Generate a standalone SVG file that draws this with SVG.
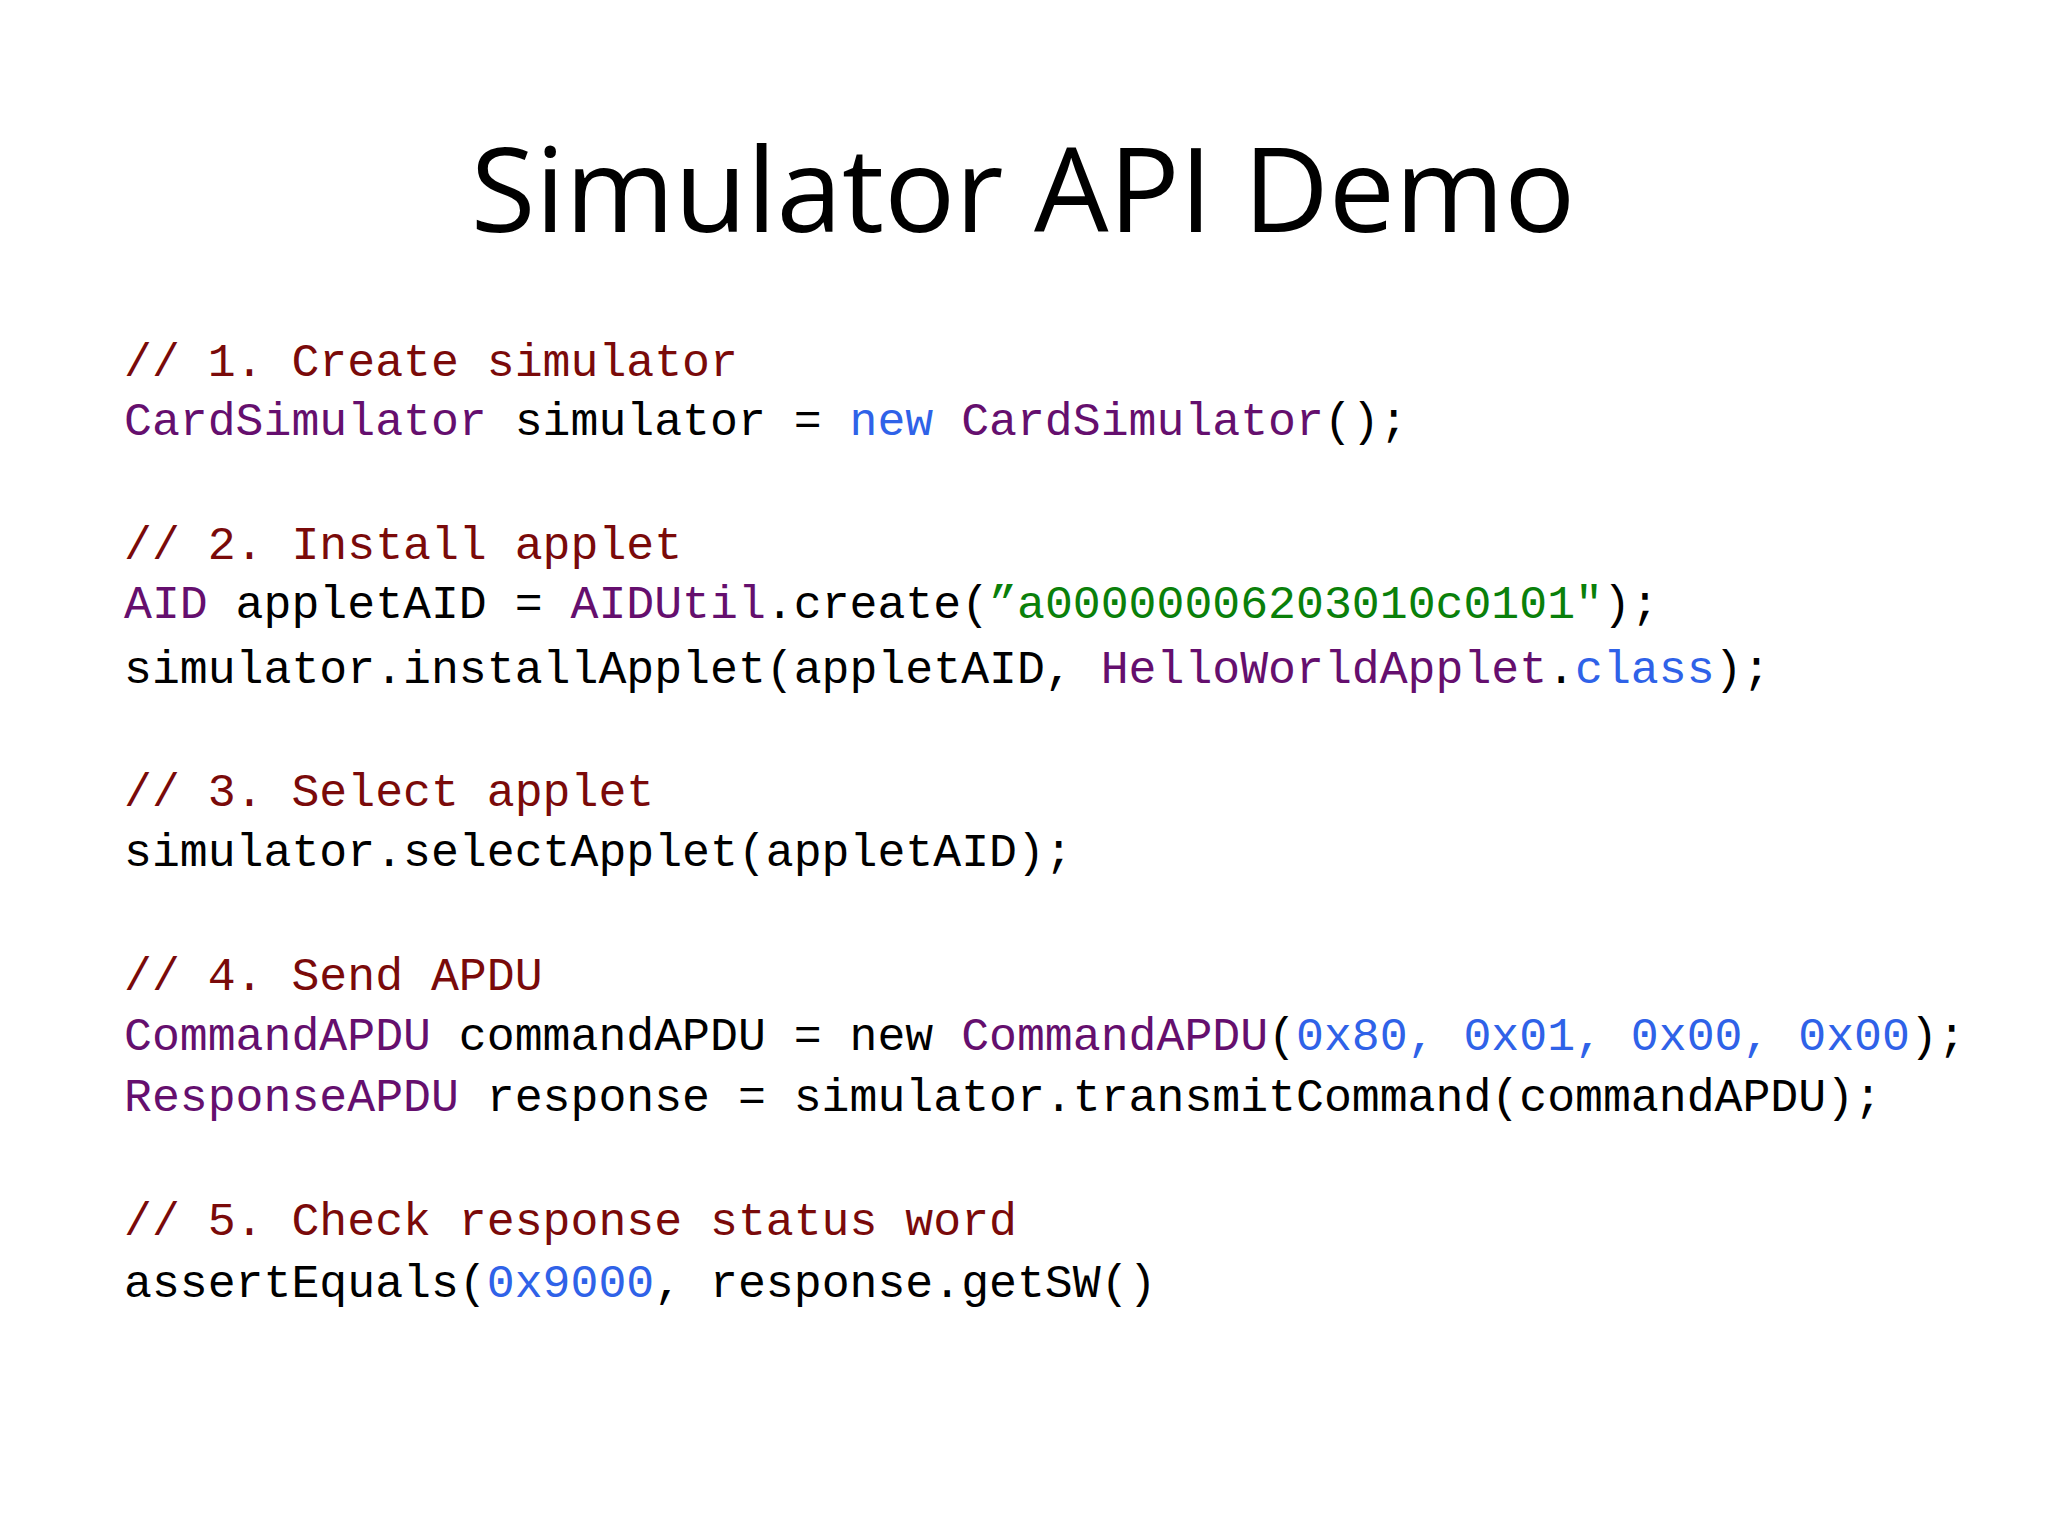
<svg xmlns="http://www.w3.org/2000/svg" width="2048" height="1536" viewBox="0 0 2048 1536">
<style>
.t{font-family:"Open Sans","Noto Sans","Liberation Sans",sans-serif;font-size:118px;fill:#000}
.c{font-family:"Liberation Mono","DejaVu Sans Mono",monospace;font-size:46.5px;fill:#000;white-space:pre}
.cm{fill:#7a0a0a}.ty{fill:#650f6e}.kw{fill:#2f62e8}.st{fill:#0a800a}
</style>
<rect width="2048" height="1536" fill="#fff"/>
<text class="t" x="1023" y="232" text-anchor="middle">Simulator API Demo</text>
<g id="code" xml:space="preserve">
<text class="c cm" x="124" y="376">// 1. Create simulator</text>
<text class="c" x="124" y="435"><tspan class="ty">CardSimulator</tspan> simulator = <tspan class="kw">new</tspan> <tspan class="ty">CardSimulator</tspan>();</text>
<text class="c cm" x="124" y="559">// 2. Install applet</text>
<text class="c" x="124" y="618"><tspan class="ty">AID</tspan> appletAID = <tspan class="ty">AIDUtil</tspan>.create(<tspan class="st">”a00000006203010c0101"</tspan>);</text>
<text class="c" x="124" y="683">simulator.installApplet(appletAID, <tspan class="ty">HelloWorldApplet</tspan>.<tspan class="kw">class</tspan>);</text>
<text class="c cm" x="124" y="806">// 3. Select applet</text>
<text class="c" x="124" y="866">simulator.selectApplet(appletAID);</text>
<text class="c cm" x="124" y="990">// 4. Send APDU</text>
<text class="c" x="124" y="1050"><tspan class="ty">CommandAPDU</tspan> commandAPDU = new <tspan class="ty">CommandAPDU</tspan>(<tspan class="kw">0x80, 0x01, 0x00, 0x00</tspan>);</text>
<text class="c" x="124" y="1111"><tspan class="ty">ResponseAPDU</tspan> response = simulator.transmitCommand(commandAPDU);</text>
<text class="c cm" x="124" y="1235">// 5. Check response status word</text>
<text class="c" x="124" y="1297">assertEquals(<tspan class="kw">0x9000</tspan>, response.getSW()</text>
</g>
</svg>
